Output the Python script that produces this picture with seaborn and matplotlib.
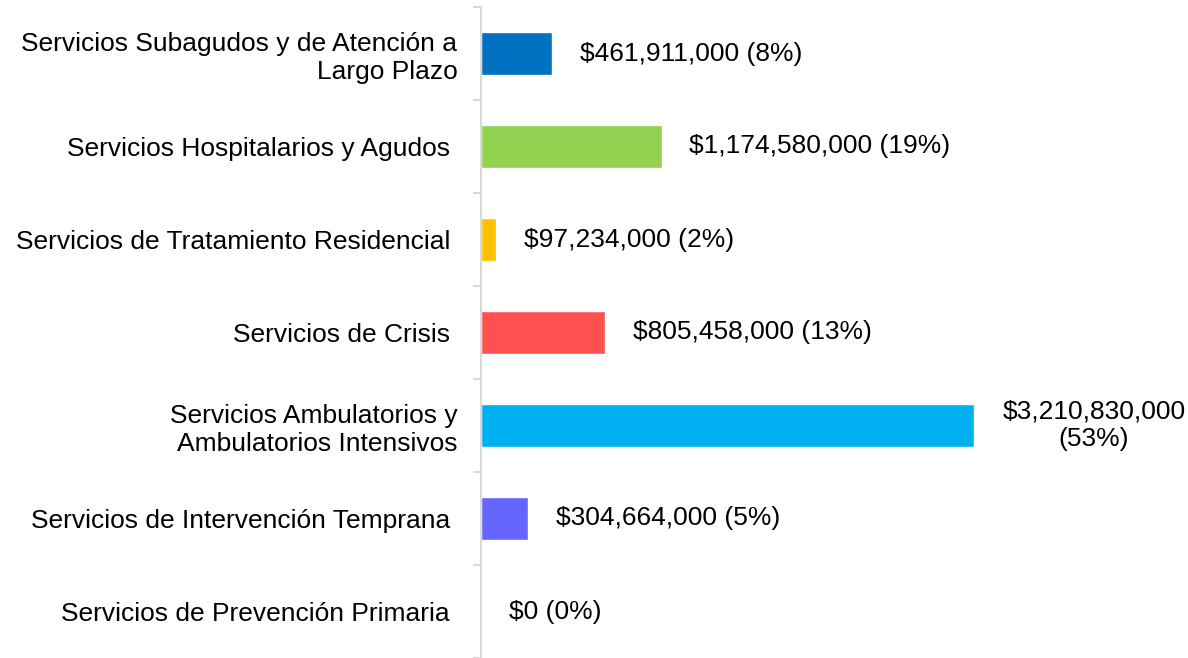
import numpy as np
import pandas as pd
import seaborn as sns
import matplotlib.pyplot as plt

categorias = [
    "Servicios Subagudos y de Atención a\nLargo Plazo",
    "Servicios Hospitalarios y Agudos ",
    "Servicios de Tratamiento Residencial ",
    "Servicios de Crisis ",
    "Servicios Ambulatorios y\nAmbulatorios Intensivos",
    "Servicios de Intervención Temprana ",
    "Servicios de Prevención Primaria ",
]
montos = [461911000, 1174580000, 97234000, 805458000, 3210830000, 304664000, 0]
porcentajes = [8, 19, 2, 13, 53, 5, 0]
colores = ["#0070C0", "#92D050", "#FFC000", "#FF5050", "#00B0F0", "#6666FF", "#A5A5A5"]

df = pd.DataFrame({"cat": categorias, "monto": montos, "pct": porcentajes})

sns.set_style("white")
plt.rcParams['font.family'] = ['Liberation Sans', 'DejaVu Sans']
plt.rcParams['text.color'] = 'black'
plt.rcParams['ytick.labelcolor'] = 'black'

fig = plt.figure(figsize=(11.88, 6.58), dpi=100)
ax = fig.add_axes([481 / 1188, 0.0, 1 - 481 / 1188, 1 - 7 / 658])

sns.barplot(data=df, x="monto", y="cat", hue="cat", palette=colores,
            legend=False, width=0.46, orient="h", ax=ax, saturation=1)

ax.set_xlim(0, 4.6e9)
ax.set_ylim(6.5, -0.5)
ax.set_xlabel("")
ax.set_ylabel("")
ax.set_xticks([])

for sp in ["top", "right", "bottom"]:
    ax.spines[sp].set_visible(False)
ax.spines["left"].set_color("#D9D9D9")
ax.spines["left"].set_linewidth(1.5)

ax.set_yticks(range(len(categorias)))
ax.set_yticklabels(categorias, fontsize=19, linespacing=1.2, color="black")
ax.set_yticks(np.arange(-0.5, len(categorias), 1), minor=True)
ax.tick_params(axis="y", which="major", length=0, pad=17)
ax.tick_params(axis="y", which="minor", length=6, width=1.5, color="#D9D9D9",
               left=True)

for i, (m, p) in enumerate(zip(montos, porcentajes)):
    txt = "${:,} ({}%)".format(m, p)
    if i == 4:
        txt = "${:,}\n({}%)".format(m, p)
    ax.annotate(txt, xy=(m, i), xytext=(20, 0), textcoords="offset points",
                ha="left", va="center", fontsize=19, multialignment="center",
                linespacing=1.2, color="black", annotation_clip=False)

fig.savefig("out.png", dpi=100)
